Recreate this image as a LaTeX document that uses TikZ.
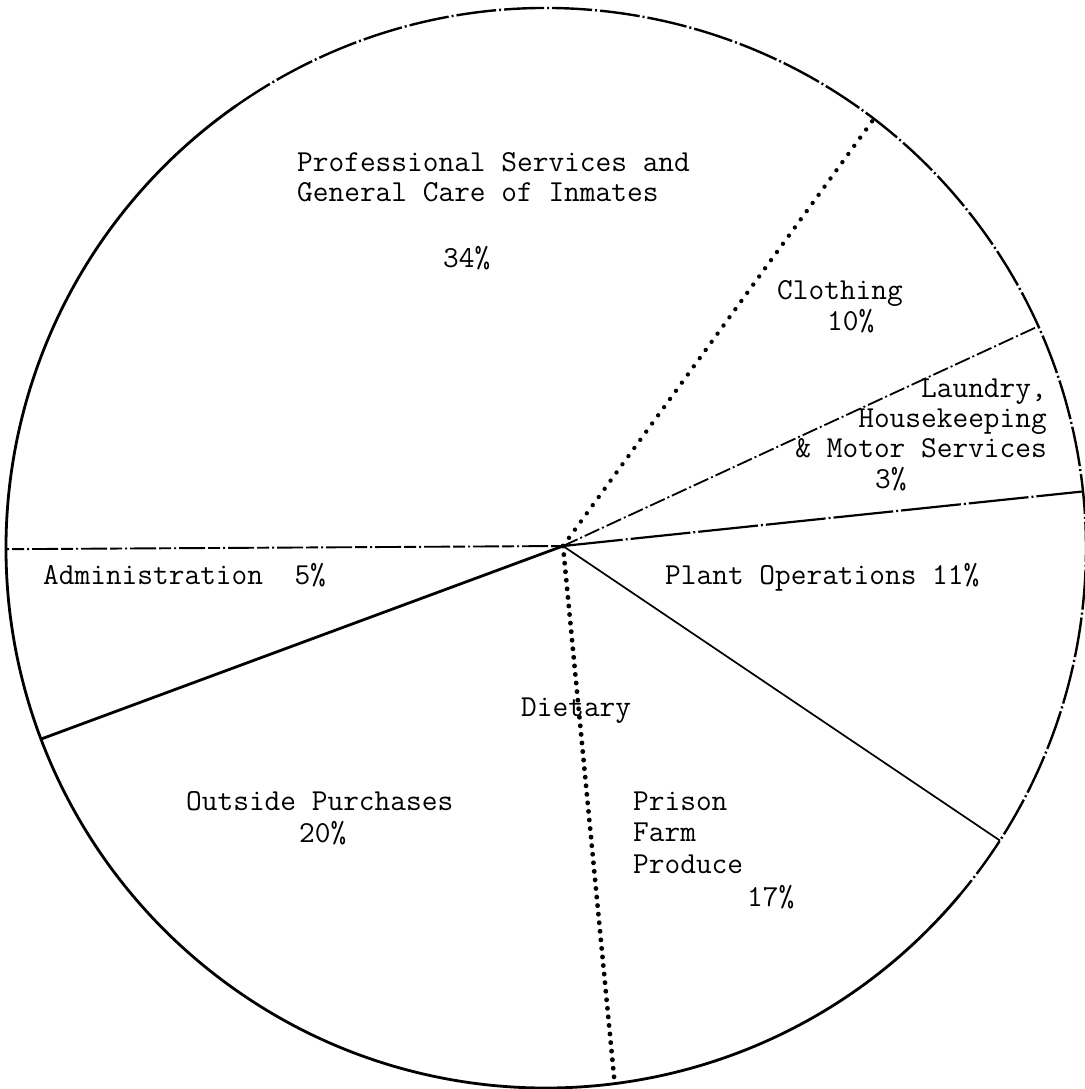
\documentclass[tikz,border=0pt]{standalone}
\usepackage{fontspec}
\usetikzlibrary{intersections}
\begin{document}
\begin{tikzpicture}[x=1pt,y=-1pt,
  lbl/.style={font=\ttfamily\fontsize{30.5}{30}\selectfont, inner sep=0pt, text=black},
  rimsolid/.style={line width=2.8pt, line cap=round},
  rimdash/.style={line width=2.4pt, dash pattern=on 40pt off 3pt on 2pt off 3pt},
  dotheavy/.style={line width=4.8pt, line cap=round, dash pattern=on 0.1pt off 8.5pt},
  dotline/.style={line width=4.3pt, line cap=round, dash pattern=on 0.1pt off 10pt},
  dashdot/.style={line width=1.8pt, dash pattern=on 16pt off 3pt on 2pt off 3pt},
  dashline/.style={line width=1.9pt, dash pattern=on 12pt off 3pt on 26pt off 3pt on 2pt off 3pt},
  solidthin/.style={line width=1.7pt},
  solidmid/.style={line width=2.2pt, dash pattern=on 60pt off 3pt on 2pt off 3pt},
  solidthick/.style={line width=2.8pt}]
\useasboundingbox[fill=white] (0,0) rectangle (1084,1089);

% rim of the pie
\coordinate (C) at (546,548);
\path[name path=rim] (C) circle[radius=540];
\draw[rimsolid] ([shift={(C)}]40:540) arc[start angle=40, end angle=235, radius=540];
\draw[rimdash] ([shift={(C)}]235:540) arc[start angle=235, end angle=400, radius=540];

% pie centre
\coordinate (P) at (563,546);

% far points of the rays
\coordinate (F1) at (975,-20);
\coordinate (F2) at (1199,252);
\coordinate (F3) at (1259,473);
\coordinate (F4) at (1143,937);
\coordinate (F5) at (630,1243);
\coordinate (F6) at (-94,789);
\coordinate (F7) at (-137,550);
\foreach \i in {1,...,7}{
  \path[name path=ray\i] (P) -- (F\i);
  \path[name intersections={of=rim and ray\i, by={E\i}}];
}

\draw[dotline]   (P) -- (E1);
\draw[dashdot]   (P) -- (E2);
\draw[solidmid]  (P) -- (E3);
\draw[solidthin] (P) -- (E4);
\draw[dotheavy]  (P) -- (E5);
\draw[solidthick](P) -- (E6);
\draw[dashline]  (P) -- (E7);

% labels
\node[lbl, anchor=base west] (prof1) at (297,171) {Professional Services and};
\node[lbl, anchor=base west] (prof2) at (297,201) {General Care of Inmates};
\node[lbl, anchor=base west] (prof3) at (443,267) {34\%};

\node[lbl, anchor=base west] (cloth1) at (777,299) {Clothing};
\node[lbl, anchor=base west] (cloth2) at (827,330) {10\%};

\node[lbl, anchor=base east] (laun1) at (1047,397) {Laundry,};
\node[lbl, anchor=base east] (laun2) at (1047,427) {Housekeeping};
\node[lbl, anchor=base east] (laun3) at (1047,457) {\& Motor Services};
\node[lbl, anchor=base west] (laun4) at (875,488) {3\%};

\node[lbl, anchor=base west] (admin) at (43,584) {Administration\ \ 5\%};
\node[lbl, anchor=base west] (plant) at (665,584) {Plant Operations 11\%};

\node[lbl, anchor=base west] (diet) at (521,716) {Dietary};

\node[lbl, anchor=base west] (out1) at (186,810) {Outside Purchases};
\node[lbl, anchor=base west] (out2) at (299,842) {20\%};

\node[lbl, anchor=base west] (farm1) at (633,810) {Prison};
\node[lbl, anchor=base west] (farm2) at (633,841) {Farm};
\node[lbl, anchor=base west] (farm3) at (633,873) {Produce};
\node[lbl, anchor=base west] (farm4) at (747,906) {17\%};
\end{tikzpicture}
\end{document}
